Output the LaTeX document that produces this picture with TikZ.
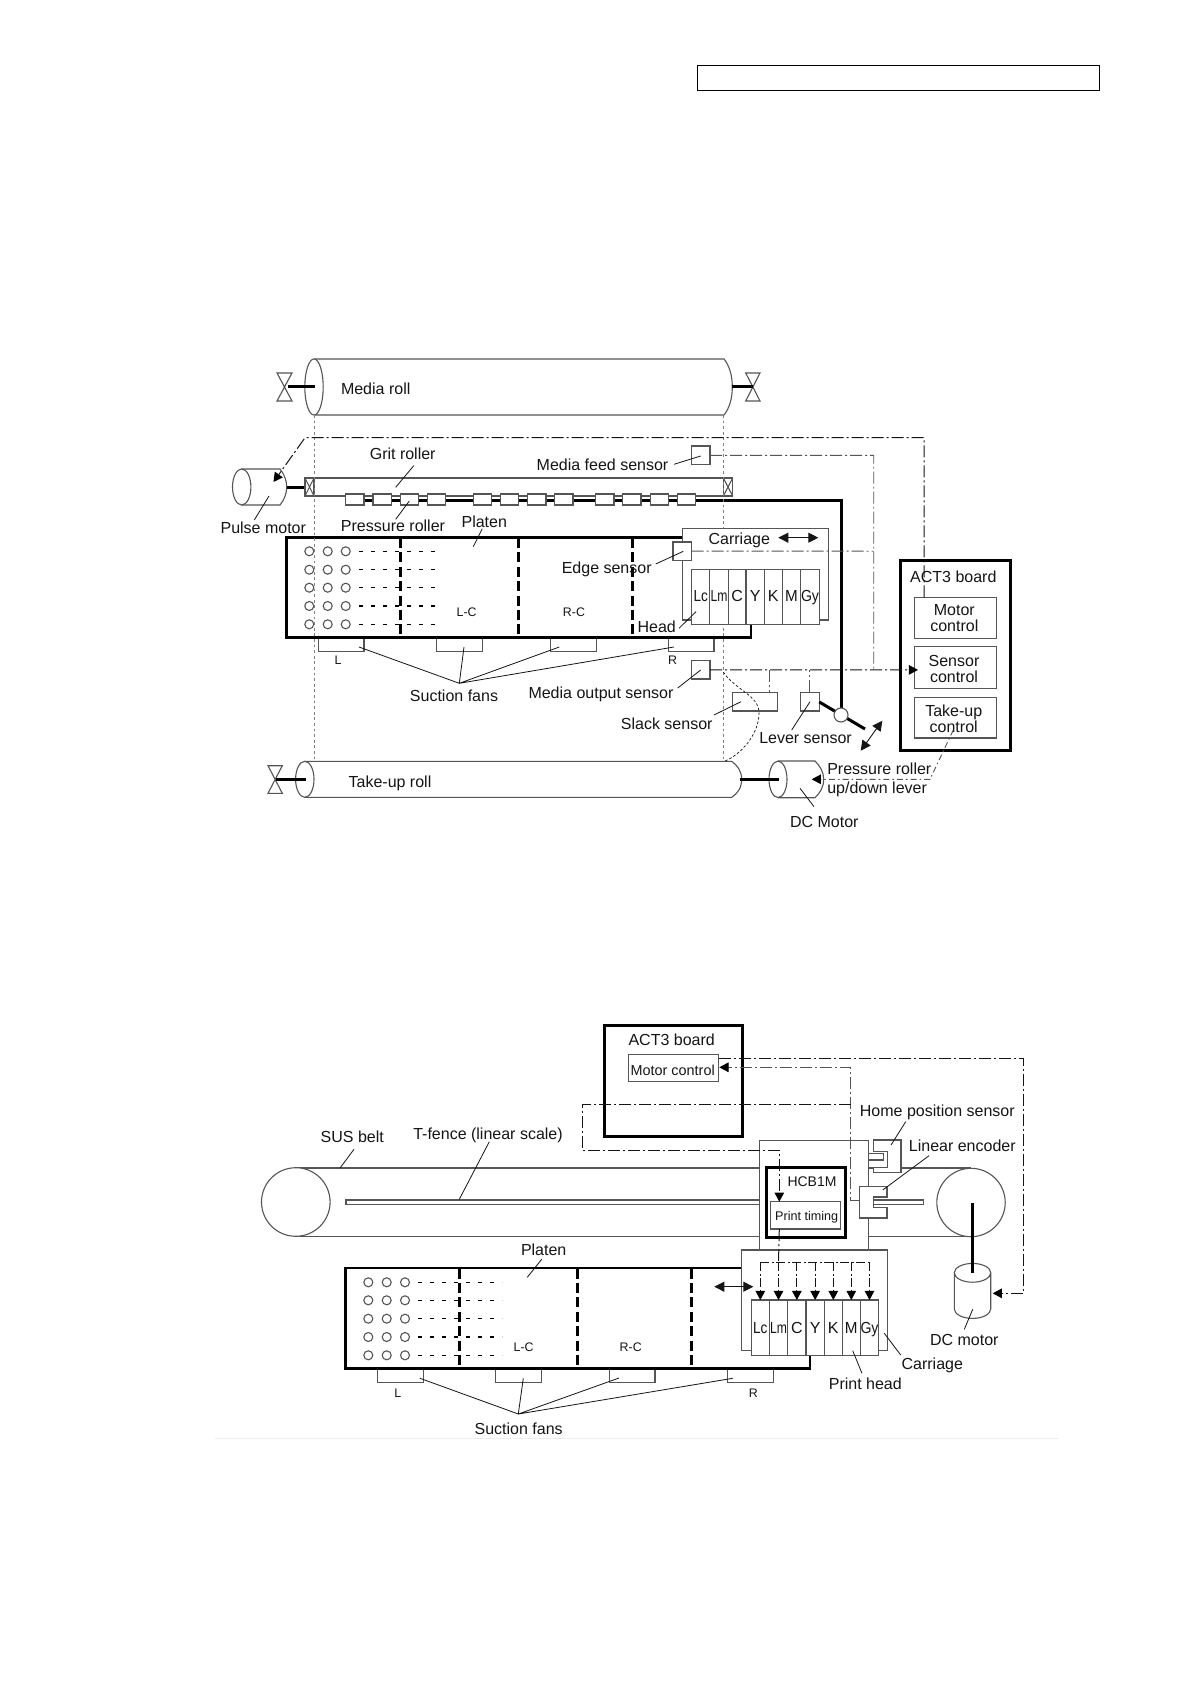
\documentclass[tikz,border=0pt]{standalone}
\usepackage{fontspec}
\setmainfont{Liberation Sans}
\usetikzlibrary{arrows.meta,calc}
\definecolor{ink}{HTML}{151515}
\definecolor{wire}{HTML}{555555}
\tikzset{
  lab/.style={inner sep=0pt,outer sep=0pt,text=ink,font=\fontsize{8}{8}\selectfont,text height=6.6pt,text depth=.8pt},
  multi/.style={inner sep=0pt,outer sep=0pt,text=ink,align=center,font=\fontsize{8}{8}\selectfont},
  tiny/.style={lab,font=\fontsize{6.2}{6.2}\selectfont,text height=4.5pt,text depth=0pt},
  cellt/.style={lab,xscale=#1},
  boxst/.style={draw=wire,fill=white,line width=.55pt,inner sep=0pt,outer sep=0pt},
  board/.style={draw=black,fill=white,line width=1.5pt,inner sep=0pt,outer sep=0pt},
  thin line/.style={draw=wire,line width=.55pt},
  leader/.style={draw=ink,line width=.4pt},
  heavy/.style={draw=black,line width=1.5pt},
  platen/.style={draw=black,line width=1.4pt,line cap=round,line join=miter},
  zone/.style={draw=black,line width=1.4pt,dash pattern=on 5pt off 2.2pt},
  holerow/.style={draw=black,line width=.7pt,dash pattern=on 1.8pt off 4.2pt},
  sig/.style={draw=wire,line width=.45pt,dash pattern=on 6pt off 1.5pt on 1pt off 1.5pt},
  sigbold/.style={sig,draw=ink,line width=.5pt},
  guide/.style={draw=gray,line width=.5pt,dash pattern=on 1.4pt off 1.4pt},
  fine/.style={draw=ink,line width=.35pt,dash pattern=on 1.3pt off 1pt},
  tip/.style={-{Triangle[length=4.6pt,width=4.8pt,color=black]}},
  both/.style={{Triangle[length=5pt,width=5pt]}-{Triangle[length=5pt,width=5pt]},draw=ink,line width=.45pt},
}
\newcommand\bx[6][boxst]{%
  \pgfmathsetmacro\bxw{(#5-#3)*.5}\pgfmathsetmacro\bxh{(#6-#4)*.5}%
  \pgfmathsetmacro\bxcx{(#3+#5)/2}\pgfmathsetmacro\bxcy{(#4+#6)/2}%
  \node[#1,minimum width=\bxw pt,minimum height=\bxh pt] (#2) at (\bxcx,\bxcy) {};}
\newcommand\lead[3]{\coordinate (#1a) at (#2);\coordinate (#1b) at (#3);\draw[leader] (#1a) -- (#1b);}
\newcommand\hourglass[4]{\draw[thin line,fill=white] (#1,#2) -- (#3,#2) -- (#1,#4) -- (#3,#4) -- cycle;}
\begin{document}
\begin{tikzpicture}[x=.5pt,y=-.5pt]
\useasboundingbox (0,0) rectangle (1191,1684);
\fill[white] (0,0) rectangle (1191,1684);
\bx[draw=black,line width=.65pt,inner sep=0pt,outer sep=0pt]{header}{697.3}{65.3}{1099.7}{90.3}

%%%%%%%%%% FIGURE 1
% media roll
\draw[thin line,fill=white] (314,359) -- (724,359) .. controls (729,365) and (732.3,375) .. (732.3,387) .. controls (732.3,399) and (729,409) .. (724,415) -- (314,415);
\draw[thin line,fill=white] (314,387) ellipse [x radius=4.6pt,y radius=14pt];
\hourglass{277}{373}{292}{401}
\hourglass{745.7}{373}{760}{401}
\draw[heavy] (288,387) -- (315,387);
\draw[heavy] (731.7,387) -- (752.7,387);
\node[lab] (tmedia) at (375.7,388.3) {Media roll};
% take-up roll
\draw[thin line,fill=white] (304.8,761.3) -- (731.7,761.3) .. controls (737,765) and (741.7,771) .. (741.7,779.3) .. controls (741.7,788) and (737,794) .. (731.7,797.3) -- (304.8,797.3);
\draw[thin line,fill=white] (304.8,779.3) ellipse [x radius=4.6pt,y radius=9pt];
\hourglass{268}{765.7}{282.3}{793.3}
\draw[heavy] (275.7,779.3) -- (306,779.3);
\node[lab] (ttakeup) at (390,781.3) {Take-up roll};
% pulse motor
\draw[thin line,fill=white] (241.7,469) -- (280,469) .. controls (284,474) and (286.7,480) .. (286.7,487) .. controls (286.7,494) and (284,500) .. (280,505) -- (241.7,505);
\draw[thin line,fill=white] (241.7,487) ellipse [x radius=4.6pt,y radius=9pt];
\draw[heavy] (287,487) -- (305,487);
\node[lab] (tpulse) at (263.3,527.3) {Pulse motor};
\lead{lpm}{254.3,520}{269,496}
% DC motor
\draw[thin line,fill=white] (778,761) -- (815,761) .. controls (820,766) and (823.7,772) .. (823.7,779.3) .. controls (823.7,787) and (820,793) .. (815,797.7) -- (778,797.7);
\draw[thin line,fill=white] (778,779.3) ellipse [x radius=4.5pt,y radius=9.1pt];
\draw[heavy] (740,779.3) -- (779,779.3);
\node[lab] (tdcm) at (824.3,821.7) {DC Motor};
\lead{ldcm}{814,806.7}{800,788.3}
% grit roller
\bx{grit}{305}{478}{732.7}{496}
\bx{gl}{305}{478}{314}{496}
\bx{gr}{723.3}{478}{732.7}{496}
\draw[thin line] (gl.north west) -- (gl.south east) (gl.north east) -- (gl.south west);
\draw[thin line] (gr.north west) -- (gr.south east) (gr.north east) -- (gr.south west);
\node[lab] (tgrit) at (402.7,453.3) {Grit roller};
\lead{lgr}{413.7,465.7}{395.7,487.3}
% lever and pressure roller shaft
\draw[heavy,line join=miter] (346,500) -- (841.7,500) -- (841.7,708);
\foreach \i/\x in {1/345.7,2/373,3/400.3,4/427.3,5/473.3,6/500.3,7/527.7,8/554.7,9/595.7,10/622.7,11/650.3,12/677.3}{
  \pgfmathsetmacro\xb{\x+18.3}
  \bx{pr\i}{\x}{494}{\xb}{505}
}
\node[lab] (tpress) at (393,525.7) {Pressure roller};
\lead{lpr}{395.7,519.3}{409.3,501}
% fans
\bx{f1}{318.3}{637.3}{364}{651.7}
\bx{f2}{436.7}{637.3}{482.3}{651.7}
\bx{f3}{550.3}{637.3}{596.3}{651.7}
\bx{f4}{668.7}{637.3}{714}{651.7}
\node[tiny] (tl) at (338,660) {L};
\node[tiny] (tr) at (672.7,660) {R};
% platen
\draw[platen] (682.3,537.7) -- (286.7,537.7) -- (286.7,637.3) -- (751,637.3) -- (751,624.3);
\foreach \x in {400.3,518.7,632.3} \draw[zone] (\x,538) -- (\x,637);
\foreach \y in {551.3,569.7,587.7,606,624.3}{
  \foreach \x in {309.3,327.7,345.7} \draw[thin line] (\x,\y) circle [radius=2.25pt];
  \draw[holerow] (359,\y) -- (442,\y);
}
\node[tiny] (tlc) at (466.7,612) {L-C};
\node[tiny] (trc) at (574,612) {R-C};
\node[lab] (tplaten) at (484.3,521.3) {Platen};
\lead{lpl}{482.3,528.7}{473.3,546.7}
% guides
\draw[guide] (314,415) -- (314,760);
\draw[guide] (723.3,415) -- (723.3,761);
% carriage and head
\bx{car}{682.3}{528.3}{828.3}{620}
\node[lab] (tcar) at (739.3,538.3) {Carriage};
\coordinate (cara) at (778.3,537.7);\coordinate (carb) at (818.3,537.7);
\draw[both] (cara) -- (carb);
\foreach \a/\b/\t/\s in {691.7/709.7/Lc/.85,709.7/728.3/Lm/.76,728.3/746/C/1,746/764.3/Y/1,764.3/782.3/K/1,782.3/800.7/M/.95,800.7/819.3/Gy/.88}{
  \bx{hd\t}{\a}{569.3}{\b}{624.3}
  \node[cellt=\s] (tx\t) at ($(hd\t)+(0,-1)$) {\t};
}
\node[lab] (thead) at (656.7,626.7) {Head};
\lead{lhd}{679,628.3}{696,611.7}
% sensors
\bx{mfs}{691.7}{446}{710}{464.7}
\bx{es}{673}{542}{691.7}{560.3}
\bx{mos}{691.7}{660.7}{710}{679}
\bx{slk}{732.3}{692.3}{777.7}{711}
\bx{lvs}{800.7}{692.3}{819.3}{711}
\node[lab] (tmfs) at (602.5,464.3) {Media feed sensor};
\lead{lmf}{674,464.3}{700.7,456}
\node[lab] (tes) at (606.7,567.3) {Edge sensor};
\lead{les}{655.7,564}{683.3,551.3}
\node[lab] (tmos) at (601,692.7) {Media output sensor};
\lead{lmo}{677.7,688}{700.7,670}
\node[lab] (tslk) at (666.7,724) {Slack sensor};
\lead{lsl}{714,715}{741,701.7}
\node[lab] (tlvs) at (805.5,737.3) {Lever sensor};
\lead{llv}{791.7,730}{810,701.7}
\draw[fine] (723.3,672) .. controls (735,690) and (759,695) .. (759,713) .. controls (759,735) and (740,755) .. (725,761);
% lever
\draw[heavy] (lvs.south east) ++(0,-9) -- (865,729);
\node[circle,draw=wire,fill=white,line width=.55pt,inner sep=0pt,minimum size=7pt] (pivot) at (841,715) {};
\coordinate (lva) at (860.7,750.7);\coordinate (lvb) at (882.3,720.7);
\draw[both] (lva) -- (lvb);
% ACT3 board
\bx[board]{act}{900}{560}{1010.7}{750.7}
\node[lab] (tact) at (953.3,577) {ACT3 board};
\bx{mc}{914.3}{597.3}{996.3}{638.3}
\bx{sc}{914.3}{646.7}{996.3}{688.3}
\bx{tc}{914.3}{697.3}{996.3}{738}
\node[multi] (tmc) at (954.3,618.5) {Motor\\control};
\node[multi] (tsc) at (954,668.7) {Sensor\\control};
\node[multi] (ttc) at (953.7,719) {Take-up\\control};
\node[lab,align=left,text height=,text depth=,font=\fontsize{8}{9.5}\selectfont,anchor=west] (tlever) at (827.3,780) {Pressure roller\\up/down lever};
\node[lab] (tsuc) at (454,696) {Suction fans};
\coordinate (apex) at (459.3,683.3);
\coordinate (fa1) at (359,647);\coordinate (fa2) at (464,647);\coordinate (fa3) at (559.3,647);\coordinate (fa4) at (674,647);
\draw[leader] (fa1) -- (apex) -- (fa2) (fa3) -- (apex) -- (fa4);
% signal lines
\coordinate (mcport) at (924,597.3);
\coordinate (pmport) at (273.5,482);
\draw[sigbold,tip] (mcport) -- (924,437.7) -- (305,437.7) -- (pmport);
\draw[sig] (mfs.east) -- (873.7,455.4) -- (873.7,670);
\draw[sig] (es.east) -- (873.7,551.2);
\coordinate (scport) at (918,669.9);
\draw[sigbold,tip] (mos.east) -- (scport);
\draw[sig] (769,670) -- (slk.north -| 769,0);
\draw[sig] (lvs.north) ++(-.3,0) -- ++(0,-22);
\coordinate (tcport) at (953.3,730);
\coordinate (dcport) at (811.7,779.3);
\draw[sig,tip,dash pattern=on 3pt off 1.5pt on .8pt off 1.5pt] (tcport) -- (930,779.3) -- (dcport);

%%%%%%%%%% FIGURE 2
% belt
\draw[thin line] (295.8,1168) -- (971,1168) (295.8,1236.4) -- (971,1236.4);
\draw[thin line,fill=white] (295.8,1202) circle [radius=17.15pt];
\draw[thin line,fill=white] (971,1202.5) circle [radius=17.1pt];
\draw[thin line,fill=white] (346,1200) rectangle (923.3,1204.3);
\node[lab] (tsus) at (352.3,1136.7) {SUS belt};
\lead{lsus}{354,1149.3}{340,1168}
\node[lab] (ttf) at (488,1133.7) {T-fence (linear scale)};
\lead{ltf}{489.3,1141.7}{459.3,1199.3}
% fans
\bx{g1}{377.3}{1368.7}{423.3}{1382.7}
\bx{g2}{495.7}{1368.7}{541.7}{1382.7}
\bx{g3}{609.3}{1368.7}{655}{1382.7}
\bx{g4}{727.7}{1368.7}{773.7}{1382.7}
\node[tiny] (tl2) at (397.7,1393.3) {L};
\node[tiny] (tr2) at (753.3,1392.7) {R};
% platen
\draw[platen] (741.7,1268) -- (345.7,1268) -- (345.7,1368.7) -- (810,1368.7) -- (810,1355.3);
\foreach \x in {459.3,577.7,691.7} \draw[zone] (\x,1268.5) -- (\x,1368);
\foreach \y in {1282.3,1300.3,1318.7,1337,1355.3}{
  \foreach \x in {368.3,386.7,405} \draw[thin line] (\x,\y) circle [radius=2.25pt];
  \draw[holerow] (418.3,\y) -- (502.3,\y);
}
\node[tiny] (tlc2) at (523.7,1347.3) {L-C};
\node[tiny] (trc2) at (630.7,1347.3) {R-C};
\node[lab] (tplaten2) at (543.7,1250) {Platen};
\lead{lpl2}{541.7,1259.3}{527.3,1277.3}
\node[lab] (tsuc2) at (518.7,1428.7) {Suction fans};
\coordinate (apexb) at (518.3,1414);
\coordinate (ga1) at (420,1378.3);\coordinate (ga2) at (523.3,1378.3);\coordinate (ga3) at (619,1378);\coordinate (ga4) at (732.7,1378.3);
\draw[leader] (ga1) -- (apexb) -- (ga2) (ga3) -- (apexb) -- (ga4);
% carriage
\bx{cb}{759.7}{1140.3}{868.7}{1250}
\bx{cc}{741.7}{1250}{887.3}{1350.3}
\bx[board]{hcb}{766}{1167.7}{845}{1237}
\node[lab,font=\fontsize{7}{7}\selectfont,text height=5.8pt,text depth=.5pt] (thcb) at (812,1181) {HCB1M};
\bx{pt}{770.7}{1201.7}{840.7}{1229}
\node[lab,font=\fontsize{6.3}{6.3}\selectfont,text height=5.4pt,text depth=0pt] (tpt) at (806.7,1215) {Print timing};
\foreach \i/\a/\b/\t/\s in {1/751.3/769.3/Lc/.85,2/769.3/787.7/Lm/.76,3/787.7/806/C/1,4/806/824.3/Y/1,5/824.3/842.3/K/1,6/842.3/860.3/M/.95,7/860.3/878.7/Gy/.88}{
  \bx{ph\i}{\a}{1300}{\b}{1355.3}
  \node[cellt=\s] (px\i) at ($(ph\i)+(0,0)$) {\t};
  \coordinate (dist\i) at (ph\i |- 0,1262.3);
  \draw[sigbold,tip,dash pattern=on 4.5pt off 1.3pt on .9pt off 1.3pt] (dist\i) -- (ph\i.north);
}
\draw[sigbold,dash pattern=on 4.5pt off 1.3pt on .9pt off 1.3pt] (dist1) -- (dist7);
\coordinate (tsa) at (714.3,1286.7);\coordinate (tsb) at (753.3,1286.7);
\draw[both] (tsa) -- (tsb);
% sensors
\draw[thin line,fill=white] (873.3,1140) -- (901,1140) -- (901,1172.7) -- (873.3,1172.7) -- (873.3,1167.7) -- (887.7,1167.7) -- (887.7,1151.7) -- (873.3,1151.7) -- cycle;
\draw[thin line] (868.7,1153.3) -- (883.3,1153.3) -- (883.3,1160) -- (868.7,1160);
\draw[thin line] (868.7,1167.7) -- (873.3,1167.7);
\draw[thin line,fill=white] (859.3,1186.3) -- (887,1186.3) -- (887,1197) -- (873.3,1197) -- (873.3,1207.3) -- (887,1207.3) -- (887,1218) -- (859.3,1218) -- cycle;
\node[lab] (ths) at (937.3,1110.7) {Home position sensor};
\lead{lhs}{905.7,1121.7}{891,1145}
\node[lab] (tle) at (962.3,1146) {Linear encoder};
\lead{lle}{929,1155.7}{882.7,1190}
% DC motor
\draw[thin line,fill=white] (954.3,1272.8) -- (954.3,1309) arc [start angle=180,end angle=360,x radius=9.1pt,y radius=4.7pt] -- (990.7,1272.8);
\draw[thin line,fill=white] (972.5,1272.8) ellipse [x radius=9.1pt,y radius=4.7pt];
\draw[heavy] (972.3,1203.3) -- (972.3,1273.3);
\node[lab] (tdcm2) at (964.3,1339.3) {DC motor};
\lead{ldm2}{964.3,1329.3}{972.7,1309.3}
\node[lab] (tcar2) at (932.3,1363.3) {Carriage};
\lead{lcr2}{900.7,1355}{884.3,1333.3}
\node[lab] (tph) at (865.3,1383.3) {Print head};
\lead{lph}{862,1373.3}{852.7,1350.7}
% ACT3 board
\bx[board]{act2}{604.3}{1025.7}{742}{1136.7}
\node[lab] (tact2) at (671.7,1039.3) {ACT3 board};
\bx{mc2}{628.3}{1054.3}{718.7}{1081.3}
\node[lab,font=\fontsize{7.2}{7.2}\selectfont,text height=5.9pt,text depth=0pt] (tmc2) at (672.7,1070) {Motor control};
% signal lines
\coordinate (enc) at (859.3,1200);
\coordinate (mcin) at (719.3,1067.3);
\draw[sig,tip] (enc) -- (850.5,1200) -- (850.5,1067.3) -- (mcin);
\coordinate (mctop) at (718.7,1058.7);
\coordinate (dcin) at (992.7,1293.3);
\draw[sigbold,tip] (mctop) -- (1023.7,1058.7) -- (1023.7,1293.3) -- (dcin);
\coordinate (pttop) at (779.3,1201.7);
\draw[sigbold,tip] (850.5,1104.3) -- (582.3,1104.3) -- (582.3,1150) -- (779.3,1150) -- (pttop);
\draw[sigbold] (779.3,1229) -- (dist2);
% faint rule
\coordinate (ruleL) at (215,1438.3);\coordinate (ruleR) at (1058,1438.3);
\draw[draw=black!7,line width=.5pt] (ruleL) -- (ruleR);
\end{tikzpicture}
\end{document}
